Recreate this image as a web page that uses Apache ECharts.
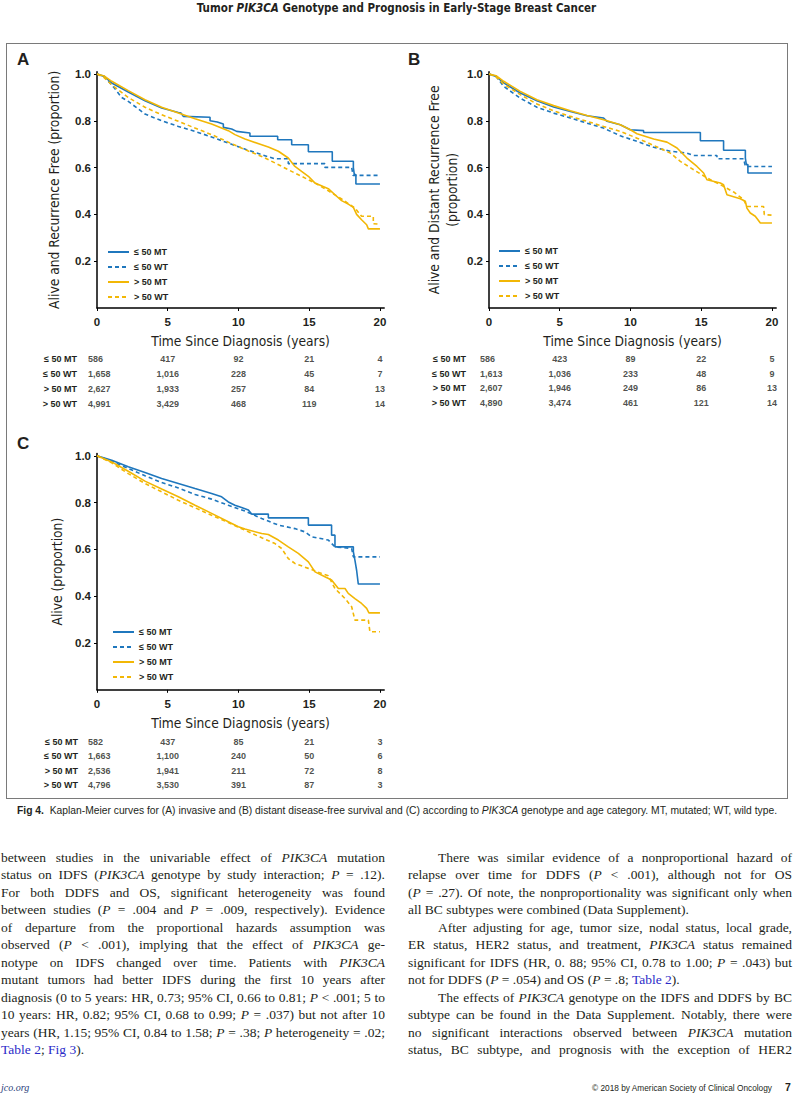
<!DOCTYPE html>
<html>
<head>
<meta charset="utf-8">
<script src="https://cdn.jsdelivr.net/npm/echarts@6/dist/echarts.min.js"></script>
<style>
  html, body { margin:0; padding:0; background:#fff; }
  #page { position:relative; width:793px; height:1095px; overflow:hidden; color:#231f20; }
  #chart { position:absolute; left:0; top:0; width:793px; height:1095px; }
  .box { position:absolute; left:6px; top:43px; width:780px; height:754px; border:1.5px solid #7a7a7a; }
  .hdr { position:absolute; top:1px; left:0; width:793px; text-align:center; font:bold 11.5px 'Liberation Sans Narrow','DejaVu Sans Condensed',sans-serif; }
  .cap { position:absolute; top:805px; left:17px; width:760px; font:10.3px 'Liberation Sans',Arial,sans-serif; white-space:nowrap; text-align:justify; text-align-last:justify; }
  .col { position:absolute; top:849px; width:384px; font:13.5px 'Liberation Serif','Times New Roman',serif; line-height:17.45px; }
  .col div { white-space:nowrap; text-align:justify; text-align-last:justify; }
  .col div.last { text-align-last:left; }
  .col div.ind { padding-left:30px; }
  .col a { color:#2b2bc8; text-decoration:none; }
  .foot1 { position:absolute; left:1px; top:1082px; font:italic 10px 'Liberation Serif',serif; color:#1f3d7a; }
  .foot2 { position:absolute; right:21px; top:1083px; font:8.3px 'Liberation Sans',sans-serif; }
  .foot3 { position:absolute; left:785px; top:1081px; font:bold 10.5px 'Liberation Sans',sans-serif; }
</style>
</head>
<body>
<div id="page">
  <div class="hdr">Tumor <i>PIK3CA</i> Genotype and Prognosis in Early-Stage Breast Cancer</div>
  <div class="box"></div>
  <div id="chart"></div>
  <div class="cap"><b>Fig 4.</b>&nbsp; Kaplan-Meier curves for (A) invasive and (B) distant disease-free survival and (C) according to <i>PIK3CA</i> genotype and age category. MT, mutated; WT, wild type.</div>
  <div class="col" style="left:1px;">
    <div>between studies in the univariable effect of <i>PIK3CA</i> mutation</div>
    <div>status on IDFS (<i>PIK3CA</i> genotype by study interaction; <i>P</i> = .12).</div>
    <div>For both DDFS and OS, significant heterogeneity was found</div>
    <div>between studies (<i>P</i> = .004 and <i>P</i> = .009, respectively). Evidence</div>
    <div>of departure from the proportional hazards assumption was</div>
    <div>observed (<i>P</i> &lt; .001), implying that the effect of <i>PIK3CA</i> ge-</div>
    <div>notype on IDFS changed over time. Patients with <i>PIK3CA</i></div>
    <div>mutant tumors had better IDFS during the first 10 years after</div>
    <div>diagnosis (0 to 5 years: HR, 0.73; 95% CI, 0.66 to 0.81; <i>P</i> &lt; .001; 5 to</div>
    <div>10 years: HR, 0.82; 95% CI, 0.68 to 0.99; <i>P</i> = .037) but not after 10</div>
    <div>years (HR, 1.15; 95% CI, 0.84 to 1.58; <i>P</i> = .38; <i>P</i> heterogeneity = .02;</div>
    <div class="last"><a>Table 2</a>; <a>Fig 3</a>).</div>
  </div>
  <div class="col" style="left:408px;">
    <div class="ind">There was similar evidence of a nonproportional hazard of</div>
    <div>relapse over time for DDFS (<i>P</i> &lt; .001), although not for OS</div>
    <div>(<i>P</i> = .27). Of note, the nonproportionality was significant only when</div>
    <div class="last">all BC subtypes were combined (Data Supplement).</div>
    <div class="ind">After adjusting for age, tumor size, nodal status, local grade,</div>
    <div>ER status, HER2 status, and treatment, <i>PIK3CA</i> status remained</div>
    <div>significant for IDFS (HR, 0. 88; 95% CI, 0.78 to 1.00; <i>P</i> = .043) but</div>
    <div class="last">not for DDFS (<i>P</i> = .054) and OS (<i>P</i> = .8; <a>Table 2</a>).</div>
    <div class="ind">The effects of <i>PIK3CA</i> genotype on the IDFS and DDFS by BC</div>
    <div>subtype can be found in the Data Supplement. Notably, there were</div>
    <div>no significant interactions observed between <i>PIK3CA</i> mutation</div>
    <div>status, BC subtype, and prognosis with the exception of HER2</div>
  </div>
  <div class="foot1">jco.org</div>
  <div class="foot2">© 2018 by American Society of Clinical Oncology</div>
  <div class="foot3">7</div>
</div>
<script>
// ---------- data ----------
const groupNames = ['≤ 50 MT', '≤ 50 WT', '> 50 MT', '> 50 WT'];
const riskTimes = [0, 5, 10, 15, 20];
const xTicks = [0, 5, 10, 15, 20];
const yTicks = [0.2, 0.4, 0.6, 0.8, 1.0];

// Panel A: invasive disease-free survival
const aMtYoung = [[0,1],[0.5,0.99],[1.04,0.962],[2.21,0.923],[3.39,0.886],[4.57,0.855],[5.75,0.836],[5.94,0.833],[6.1,0.819],[7.99,0.815],[7.99,0.8],[8.5,0.795],[8.93,0.786],[8.93,0.772],[9.52,0.765],[9.87,0.755],[10.81,0.748],[10.81,0.734],[12.77,0.734],[12.77,0.719],[13.76,0.719],[13.76,0.698],[14.94,0.698],[14.94,0.668],[16.63,0.668],[16.63,0.627],[18.12,0.627],[18.12,0.6],[18.19,0.57],[18.3,0.57],[18.3,0.53],[20,0.53]];
const aWtYoung = [[0,1],[0.5,0.99],[0.8,0.969],[1.27,0.937],[1.74,0.9],[2.21,0.883],[3.39,0.829],[4.57,0.8],[5.75,0.776],[6.93,0.755],[8.1,0.731],[9.28,0.705],[10.22,0.684],[11.64,0.655],[12.58,0.638],[13.52,0.638],[13.52,0.617],[16.11,0.617],[16.11,0.601],[18.0,0.601],[18.1,0.567],[20,0.567]];
const aMtOld = [[0,1],[0.5,0.992],[1.04,0.969],[2.21,0.929],[3.39,0.89],[4.57,0.858],[5.75,0.833],[6.93,0.809],[8.1,0.786],[9.28,0.758],[9.75,0.741],[10.46,0.722],[11.64,0.698],[12.11,0.688],[12.82,0.67],[13.52,0.641],[13.99,0.605],[14.46,0.584],[14.94,0.563],[15.41,0.534],[16.35,0.51],[16.82,0.484],[17.29,0.459],[17.76,0.444],[18.12,0.43],[18.35,0.4],[18.7,0.377],[19.06,0.356],[19.18,0.338],[20,0.338]];
const aWtOld = [[0,1],[0.5,0.985],[1.04,0.954],[2.21,0.9],[3.39,0.858],[4.57,0.826],[5.75,0.798],[6.93,0.769],[8.1,0.741],[9.28,0.709],[10.46,0.677],[11.64,0.648],[12.58,0.62],[13.52,0.591],[14.46,0.563],[15.41,0.534],[16.35,0.501],[17.29,0.466],[18.23,0.427],[18.7,0.392],[19.53,0.392],[19.53,0.36],[20,0.358]];

// Panel B: distant disease-free survival
const bMtYoung = [[0,1],[0.5,0.99],[1.04,0.962],[2.21,0.919],[3.39,0.886],[4.57,0.859],[5.75,0.84],[6.93,0.822],[8.1,0.812],[8.34,0.798],[9.28,0.783],[9.99,0.762],[10.93,0.758],[10.93,0.75],[14.94,0.75],[14.94,0.715],[16.58,0.715],[16.58,0.674],[18.12,0.674],[18.12,0.641],[18.19,0.613],[18.3,0.613],[18.3,0.577],[20,0.577]];
const bWtYoung = [[0,1],[0.5,0.99],[1.04,0.947],[2.21,0.897],[3.39,0.858],[4.57,0.833],[5.75,0.812],[6.93,0.79],[8.1,0.769],[9.28,0.736],[10.46,0.712],[11.64,0.687],[12.82,0.67],[13.99,0.662],[14.46,0.652],[16.11,0.652],[16.11,0.638],[18.0,0.638],[18.12,0.605],[20,0.605]];
const bMtOld = [[0,1],[0.5,0.993],[1.04,0.969],[2.21,0.926],[3.39,0.89],[4.57,0.865],[5.75,0.843],[6.93,0.823],[8.1,0.805],[9.28,0.783],[9.99,0.762],[10.46,0.745],[11.64,0.722],[12.58,0.709],[13.29,0.684],[13.99,0.641],[14.7,0.605],[15.17,0.577],[15.41,0.548],[16.35,0.534],[16.58,0.527],[16.82,0.484],[17.76,0.467],[18.12,0.456],[18.23,0.427],[18.47,0.406],[18.82,0.392],[19.18,0.363],[20,0.363]];
const bWtOld = [[0,1],[0.5,0.988],[1.04,0.957],[2.21,0.912],[3.39,0.872],[4.57,0.843],[5.75,0.819],[6.93,0.798],[8.1,0.776],[9.28,0.755],[10.46,0.726],[11.64,0.695],[12.82,0.662],[13.52,0.627],[14.46,0.591],[15.41,0.556],[16.35,0.527],[17.29,0.496],[18.0,0.463],[18.23,0.434],[19.41,0.434],[19.46,0.399],[20,0.397]];

// Panel C: overall survival
const cMtYoung = [[0,1],[1.04,0.981],[2.21,0.953],[3.39,0.929],[4.57,0.903],[5.75,0.882],[6.93,0.86],[8.1,0.839],[8.81,0.825],[9.28,0.803],[9.75,0.789],[10.22,0.779],[10.7,0.768],[10.93,0.751],[12.11,0.751],[12.11,0.735],[14.94,0.735],[14.94,0.704],[16.58,0.704],[16.58,0.661],[16.82,0.661],[16.82,0.611],[18.12,0.611],[18.12,0.59],[18.23,0.554],[18.35,0.511],[18.47,0.452],[20,0.452]];
const cWtYoung = [[0,1],[1.04,0.977],[2.21,0.946],[3.39,0.915],[4.57,0.886],[5.75,0.863],[6.93,0.835],[8.1,0.815],[9.28,0.789],[10.46,0.764],[11.64,0.732],[12.82,0.704],[13.99,0.689],[14.7,0.675],[15.17,0.654],[16.35,0.64],[16.82,0.611],[18.0,0.604],[18.12,0.568],[20,0.568]];
const cMtOld = [[0,1],[1.04,0.974],[2.21,0.934],[3.39,0.892],[4.57,0.858],[5.75,0.825],[6.93,0.789],[8.1,0.754],[9.28,0.718],[9.99,0.697],[10.46,0.687],[11.64,0.668],[12.11,0.664],[12.82,0.64],[13.52,0.611],[14.23,0.583],[14.94,0.547],[15.41,0.504],[16.11,0.483],[16.58,0.469],[17.06,0.433],[17.53,0.433],[17.76,0.412],[18.23,0.39],[18.7,0.369],[19.06,0.348],[19.22,0.329],[20,0.329]];
const cWtOld = [[0,1],[1.04,0.97],[2.21,0.924],[3.39,0.882],[4.57,0.846],[5.75,0.81],[6.93,0.778],[8.1,0.746],[9.28,0.715],[10.46,0.682],[11.64,0.65],[12.58,0.625],[13.05,0.604],[13.52,0.561],[13.99,0.54],[14.94,0.519],[15.88,0.497],[16.35,0.487],[16.82,0.433],[17.53,0.39],[18.0,0.355],[18.23,0.298],[19.18,0.298],[19.29,0.248],[20,0.248]];

// Numbers at risk (rows: groupNames; columns: riskTimes)
const riskA = [[586,417,92,21,4],[1658,1016,228,45,7],[2627,1933,257,84,13],[4991,3429,468,119,14]];
const riskB = [[586,423,89,22,5],[1613,1036,233,48,9],[2607,1946,249,86,13],[4890,3474,461,121,14]];
const riskC = [[582,437,85,21,3],[1663,1100,240,50,6],[2536,1941,211,72,8],[4796,3530,391,87,3]];

const panelLetters = ['A', 'B', 'C'];
const yTitles = ['Alive and Recurrence Free (proportion)', 'Alive and Distant Recurrence Free\n(proportion)', 'Alive (proportion)'];
const xTitle = 'Time Since Diagnosis (years)';

// ---------- styling / layout ----------
const BLUE = '#1f77bd', GOLD = '#f2b705', INK = '#231f20';
const NARROW = "'Liberation Sans Narrow','DejaVu Sans Condensed','Liberation Sans',sans-serif";
const SANS = "'Liberation Sans',Arial,sans-serif";
const seriesStyle = [
  {color: BLUE, type: 'solid'}, {color: BLUE, type: [4, 3]},
  {color: GOLD, type: 'solid'}, {color: GOLD, type: [4, 3]}
];
const plotGrids = [
  {left: 97, top: 71.7, width: 287.2, height: 236.3},
  {left: 489, top: 71.7, width: 287.2, height: 236.3},
  {left: 97, top: 453.5, width: 287.2, height: 236.3}
];
const riskGrids = [
  {left: 97, top: 351.5, width: 287.2, height: 60},
  {left: 489, top: 352, width: 287.2, height: 58},
  {left: 97, top: 734.5, width: 287.2, height: 57.6}
];
const yNameGaps = [34, 28, 31];
const riskLabelMargins = [20, 23, 19];
const legendPos = [{left: 107, top: 247}, {left: 498, top: 246}, {left: 112, top: 627}];
const letterPos = [{left: 17, top: 51}, {left: 408, top: 51}, {left: 17, top: 435}];

const curves = [[aMtYoung, aWtYoung, aMtOld, aWtOld], [bMtYoung, bWtYoung, bMtOld, bWtOld], [cMtYoung, cWtYoung, cMtOld, cWtOld]];
const risks = [riskA, riskB, riskC];

const grid = [], xAxis = [], yAxis = [], series = [], legend = [], title = [];
for (let p = 0; p < 3; p++) {
  grid.push(Object.assign({containLabel: false}, plotGrids[p]));
  xAxis.push({
    gridIndex: p, type: 'value', min: 0, max: 20.3, interval: 5,
    axisLine: {lineStyle: {color: '#000', width: 1.5}},
    axisTick: {show: true, length: 3, customValues: xTicks, lineStyle: {color: '#000'}},
    axisLabel: {customValues: xTicks, formatter: v => (v % 5 === 0 ? String(v) : ''), color: INK, fontSize: 11.5, fontWeight: 'bold', fontFamily: SANS, margin: 8},
    splitLine: {show: false},
    name: xTitle, nameLocation: 'middle', nameGap: 26,
    nameTextStyle: {fontSize: 13.7, color: INK, fontFamily: NARROW}
  });
  yAxis.push({
    gridIndex: p, type: 'value', min: 0, max: 1.01,
    axisLine: {show: true, lineStyle: {color: '#000', width: 1.5}},
    axisTick: {show: true, length: 3, customValues: yTicks, lineStyle: {color: '#000'}},
    axisLabel: {customValues: yTicks, formatter: v => v.toFixed(1), color: INK, fontSize: 11.5, fontWeight: 'bold', fontFamily: SANS, margin: 6},
    splitLine: {show: false},
    name: yTitles[p], nameLocation: 'middle', nameGap: yNameGaps[p],
    nameTextStyle: {fontSize: 13.7, color: INK, fontFamily: NARROW, lineHeight: 18}
  });
  curves[p].forEach((d, k) => {
    series.push({
      name: groupNames[k], type: 'line', xAxisIndex: p, yAxisIndex: p, data: d,
      symbol: 'none', showSymbol: false, animation: false, silent: true,
      lineStyle: {color: seriesStyle[k].color, width: 1.6, type: seriesStyle[k].type},
      itemStyle: {color: seriesStyle[k].color}
    });
  });
  legend.push({
    left: legendPos[p].left, top: legendPos[p].top, orient: 'vertical', padding: 0,
    itemWidth: 21, itemHeight: 10, itemGap: 5, itemTextGap: 5, selectedMode: false,
    data: groupNames,
    itemStyle: {opacity: 0, color: 'rgba(0,0,0,0)', borderWidth: 0},
    textStyle: {fontSize: 9, fontWeight: 'bold', color: INK, fontFamily: SANS, lineHeight: 10}
  });
  title.push({text: panelLetters[p], left: letterPos[p].left, top: letterPos[p].top, padding: 0,
    textStyle: {fontSize: 17, fontWeight: 'bold', color: INK, fontFamily: SANS}});
}
// Number-at-risk tables placed on the same time scale
for (let p = 0; p < 3; p++) {
  const gi = 3 + p;
  grid.push(Object.assign({containLabel: false}, riskGrids[p]));
  xAxis.push({gridIndex: gi, type: 'value', min: 0, max: 20.3, show: false});
  yAxis.push({
    gridIndex: gi, type: 'category', data: groupNames, inverse: true,
    axisLine: {show: false}, axisTick: {show: false}, splitLine: {show: false},
    axisLabel: {color: INK, fontSize: 9, fontWeight: 'bold', fontFamily: SANS, margin: riskLabelMargins[p]}
  });
  const data = [];
  risks[p].forEach((row, r) => row.forEach((n, c) => {
    const item = {value: [riskTimes[c], groupNames[r], n]};
    if (c === 0) item.label = {align: 'left', offset: [-9, 0]};
    data.push(item);
  }));
  series.push({
    type: 'scatter', xAxisIndex: gi, yAxisIndex: gi, data, symbolSize: 1,
    itemStyle: {color: 'rgba(0,0,0,0)'}, silent: true, animation: false,
    label: {show: true, position: 'inside', formatter: q => q.value[2].toLocaleString('en-US'),
      color: INK, fontSize: 9, fontWeight: 'bold', fontFamily: SANS}
  });
}

const chart = echarts.init(document.getElementById('chart'), null, {renderer: 'svg', width: 793, height: 1095});
chart.setOption({animation: false, backgroundColor: 'transparent', title, grid, xAxis, yAxis, legend, series});
</script>
</body>
</html>
